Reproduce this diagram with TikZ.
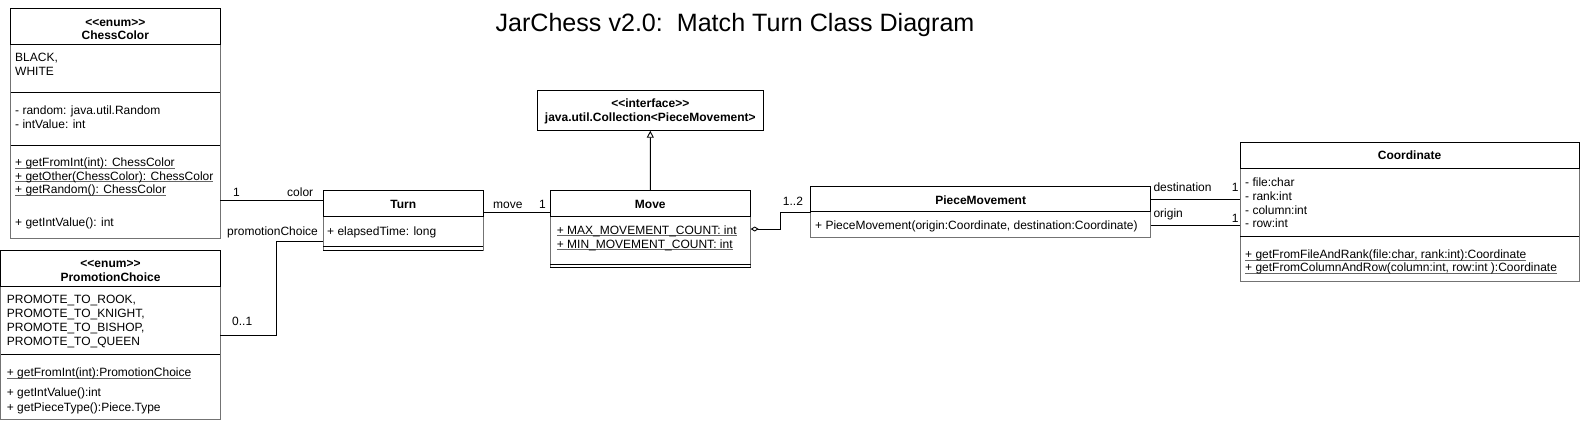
\documentclass[tikz,border=0pt]{standalone}
\usepackage{fontspec}
\setmainfont{Liberation Sans}
\usetikzlibrary{arrows.meta,calc}
\newcommand\ulin[1]{\setbox0\hbox{#1}\rlap{\color{black!60}\rule[-1.9pt]{\wd0}{0.7pt}}\box0}
\newcommand\dlt{<\kern0pt<}
\newcommand\dgt{>\kern0pt>}
\begin{document}
\begin{tikzpicture}[x=1pt,y=-1pt,
  box/.style={draw=black!55, line width=0.9pt, anchor=north west, inner sep=0pt, outer sep=0pt},
  hdr/.style={draw=black, line width=0.9pt},
  sepline/.style={draw=black, line width=0.9pt},
  txt/.style={anchor=base west, inner sep=0pt, font=\fontsize{12}{14}\selectfont},
  ctr/.style={anchor=base, inner sep=0pt, font=\fontsize{12}{14}\selectfont\bfseries},
  conn/.style={draw=black, line width=0.9pt},
]
\useasboundingbox (0,0) rectangle (1581,424);

% title
\node[anchor=base, inner sep=0pt, font=\fontsize{25.1}{30}\selectfont] (title) at (735,31.5) {JarChess v2.0:\ \ Match Turn Class Diagram};

% ChessColor
\node[box, minimum width=209.3pt, minimum height=229.7pt] (cc) at (10.7,8.3) {};
\draw[hdr] (cc.north west) rectangle ($(cc.north east)+(0,35.7)$);
\draw[sepline] ($(cc.north west)+(0,84)$) -- ($(cc.north east)+(0,84)$);
\draw[sepline] ($(cc.north west)+(0,136.7)$) -- ($(cc.north east)+(0,136.7)$);
\node[ctr] (cch1) at (115.3,26.5) {\dlt enum\dgt};
\node[ctr] (cch2) at (115.3,39.8) {ChessColor};
\node[txt] (cct1) at (15,61.5) {BLACK,};
\node[txt] (cct2) at (15,75.7) {WHITE};
\node[txt] (cct3) at (15,114) {- random: java.util.Random};
\node[txt] (cct4) at (15,128) {- intValue: int};
\node[txt] (cct5) at (15,166.5) {\ulin{+ getFromInt(int): ChessColor}};
\node[txt] (cct6) at (15,180) {\ulin{+ getOther(ChessColor): ChessColor}};
\node[txt] (cct7) at (15,193.5) {\ulin{+ getRandom(): ChessColor}};
\node[txt] (cct8) at (15,226.5) {+ getIntValue(): int};

% PromotionChoice
\node[box, minimum width=219.3pt, minimum height=168.6pt] (pc) at (0.9,250.7) {};
\draw[hdr] (pc.north west) rectangle ($(pc.north east)+(0,36)$);
\draw[sepline] ($(pc.north west)+(0,103.6)$) -- ($(pc.north east)+(0,103.6)$);
\node[ctr] (pch1) at (110.5,267) {\dlt enum\dgt};
\node[ctr] (pch2) at (110.5,281.7) {PromotionChoice};
\node[txt] (pct1) at (6.7,303.3) {PROMOTE\_TO\_ROOK,};
\node[txt] (pct2) at (6.7,317.3) {PROMOTE\_TO\_KNIGHT,};
\node[txt] (pct3) at (6.7,331) {PROMOTE\_TO\_BISHOP,};
\node[txt] (pct4) at (6.7,345) {PROMOTE\_TO\_QUEEN};
\node[txt] (pct5) at (6.7,376.7) {\ulin{+ getFromInt(int):PromotionChoice}};
\node[txt] (pct6) at (6.7,396.7) {+ getIntValue():int};
\node[txt] (pct7) at (6.7,411.7) {+ getPieceType():Piece.Type};

% Turn
\node[box, minimum width=160pt, minimum height=59.3pt] (turn) at (323.3,190.7) {};
\draw[hdr] (turn.north west) rectangle ($(turn.north east)+(0,26)$);
\draw[sepline] ($(turn.north west)+(0,55.8)$) -- ($(turn.north east)+(0,55.8)$);
\draw[sepline] (turn.south west) -- (turn.south east);
\node[ctr] (turnh) at (403.3,208.3) {Turn};
\node[txt] (turnt1) at (327,235) {+ elapsedTime: long};

% Move
\node[box, minimum width=200.7pt, minimum height=76.6pt] (move) at (550,190.7) {};
\draw[hdr] (move.north west) rectangle ($(move.north east)+(0,26)$);
\draw[sepline] ($(move.north west)+(0,73.5)$) -- ($(move.north east)+(0,73.5)$);
\draw[sepline] (move.south west) -- (move.south east);
\node[ctr] (moveh) at (650.3,208.3) {Move};
\node[txt] (movet1) at (556.7,234) {\ulin{+ MAX\_MOVEMENT\_COUNT: int}};
\node[txt] (movet2) at (556.7,248) {\ulin{+ MIN\_MOVEMENT\_COUNT: int}};

% interface
\node[box, draw=black, minimum width=226pt, minimum height=40.7pt] (iface) at (537.3,90) {};
\node[ctr] (ifh1) at (650.3,107.7) {\dlt interface\dgt};
\node[ctr] (ifh2) at (650.3,121.7) {java.util.Collection<PieceMovement>};

% PieceMovement
\node[box, minimum width=340pt, minimum height=51pt] (pm) at (810.7,186.7) {};
\draw[hdr] (pm.north west) rectangle ($(pm.north east)+(0,25)$);
\node[ctr] (pmh) at (980.7,204) {PieceMovement};
\node[txt] (pmt1) at (815,229) {+ PieceMovement(origin:Coordinate, destination:Coordinate)};

% Coordinate
\node[box, minimum width=339pt, minimum height=139.4pt] (coord) at (1240,142.3) {};
\draw[hdr] (coord.north west) rectangle ($(coord.north east)+(0,26)$);
\draw[sepline] ($(coord.north west)+(0,94.4)$) -- ($(coord.north east)+(0,94.4)$);
\node[ctr] (coh) at (1409.5,159.6) {Coordinate};
\node[txt] (cot1) at (1245,186.7) {- file:char};
\node[txt] (cot2) at (1245,200.5) {- rank:int};
\node[txt] (cot3) at (1245,214) {- column:int};
\node[txt] (cot4) at (1245,227.5) {- row:int};
\node[txt] (cot5) at (1245,258.3) {\ulin{+ getFromFileAndRank(file:char, rank:int):Coordinate}};
\node[txt] (cot6) at (1245,271.7) {\ulin{+ getFromColumnAndRow(column:int, row:int ):Coordinate}};

% connectors
\coordinate (c1) at ($(turn.north west)+(0,9.8)$);
\draw[conn] (c1) -- (c1 -| cc.east);
\coordinate (c2) at ($(turn.north west)+(0,51)$);
\coordinate (c3) at ($(pc.north east)+(0,84.3)$);
\draw[conn] (c3) -- ++(56.7,0) |- (c2);
\coordinate (c4) at ($(turn.north east)+(0,22)$);
\draw[conn] (c4) -- (c4 -| move.west);
\draw[conn, -{Triangle[open, length=7pt, width=7pt, fill=white]}] (move.north) -- (iface.south);
\coordinate (c5) at ($(move.north east)+(0,38.3)$);
\coordinate (c6) at ($(pm.north west)+(0,25.6)$);
\draw[conn, {Diamond[open, length=8pt, width=5pt, fill=white]}-] (c5) -- ++(29.7,0) |- (c6);
\coordinate (c7) at ($(pm.north east)+(0,12.3)$);
\draw[conn] (c7) -- (c7 -| coord.west);
\coordinate (c8) at ($(pm.north east)+(0,38.3)$);
\draw[conn] (c8) -- (c8 -| coord.west);

% labels
\node[txt] (l1) at (233,196) {1};
\node[txt] (l2) at (287,196) {color};
\node[txt] (l3) at (227,235) {promotionChoice};
\node[txt] (l4) at (232,325) {0..1};
\node[txt] (l5) at (493,208.3) {move};
\node[txt] (l6) at (539,208.3) {1};
\node[txt] (l7) at (782.7,205) {1..2};
\node[txt] (l8) at (1153.3,191.7) {destination};
\node[txt] (l9) at (1231.7,191.7) {1};
\node[txt] (l10) at (1153.3,217.3) {origin};
\node[txt] (l11) at (1231.7,222.7) {1};
\end{tikzpicture}
\end{document}
